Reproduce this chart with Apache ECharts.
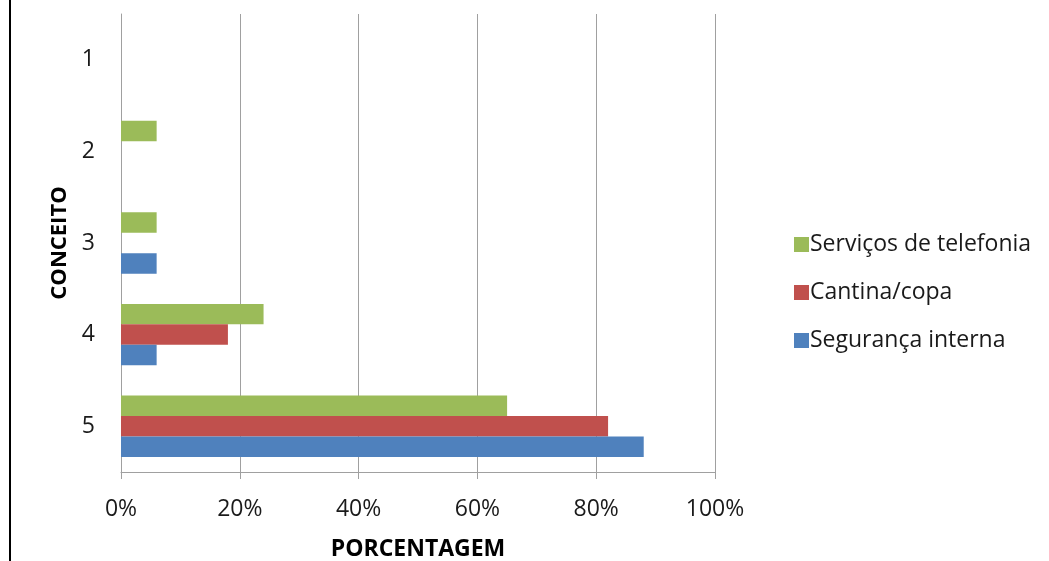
<!DOCTYPE html>
<html>
<head>
<meta charset="utf-8">
<script src="https://cdn.jsdelivr.net/npm/echarts@6/dist/echarts.min.js"></script>
<style>html,body{margin:0;padding:0;background:#fff;}#c{width:1049px;height:561px;}</style>
</head>
<body>
<div id="c"></div>
<script>
const categories = ['1', '2', '3', '4', '5'];
const telefonia = [0, 6, 6, 24, 65];
const cantina = [0, 0, 0, 18, 82];
const seguranca = [0, 0, 6, 6, 88];
const xTicks = [0, 20, 40, 60, 80, 100];

const FONT = 'Open Sans';
const chart = echarts.init(document.getElementById('c'));
chart.setOption({
  animation: false,
  backgroundColor: '#fff',
  textStyle: { fontFamily: FONT },
  graphic: [{
    type: 'rect', shape: { x: 9, y: 0, width: 2, height: 561 }, style: { fill: '#000' }
  }],
  grid: { left: 121, right: 334, top: 14, bottom: 89, containLabel: false, outerBoundsMode: 'none' },
  legend: {
    orient: 'vertical', left: 789, top: 228,
    itemWidth: 15, itemHeight: 15, itemGap: 25,
    icon: 'rect',
    data: ['Serviços de telefonia', 'Cantina/copa', 'Segurança interna'],
    textStyle: { fontFamily: FONT, fontSize: 23, color: '#1a1a1a', padding: [0, 0, 0, -4] }
  },
  xAxis: {
    type: 'value', min: 0, max: 100, interval: 20,
    axisLine: { show: true, lineStyle: { color: '#a0a0a0', width: 1 } },
    axisTick: { show: true, length: 7, lineStyle: { color: '#a0a0a0' } },
    splitLine: { show: true, lineStyle: { color: '#a0a0a0', width: 1 } },
    axisLabel: { formatter: v => v + '%', fontSize: 23, color: '#1a1a1a', margin: 26, fontFamily: FONT },
    name: 'PORCENTAGEM', nameLocation: 'middle', nameGap: 66,
    nameTextStyle: { fontSize: 23, fontWeight: 'bold', color: '#000', fontFamily: FONT }
  },
  yAxis: {
    type: 'category', data: categories, inverse: true,
    axisLine: { show: true, lineStyle: { color: '#a0a0a0' } },
    axisTick: { show: false },
    axisLabel: { fontSize: 23, color: '#1a1a1a', margin: 26, fontFamily: FONT, padding: [6, 0, 0, 0] },
    name: 'CONCEITO', nameLocation: 'middle', nameGap: 46, nameRotate: 90,
    nameTextStyle: { fontSize: 22, fontWeight: 'bold', color: '#000', fontFamily: FONT }
  },
  series: [
    { name: 'Serviços de telefonia', type: 'bar', data: telefonia, itemStyle: { color: '#9BBB59' }, barGap: '0%', barCategoryGap: '33%' },
    { name: 'Cantina/copa', type: 'bar', data: cantina, itemStyle: { color: '#C0504D' }, barGap: '0%', barCategoryGap: '33%' },
    { name: 'Segurança interna', type: 'bar', data: seguranca, itemStyle: { color: '#4F81BD' }, barGap: '0%', barCategoryGap: '33%' }
  ]
});
</script>
</body>
</html>
